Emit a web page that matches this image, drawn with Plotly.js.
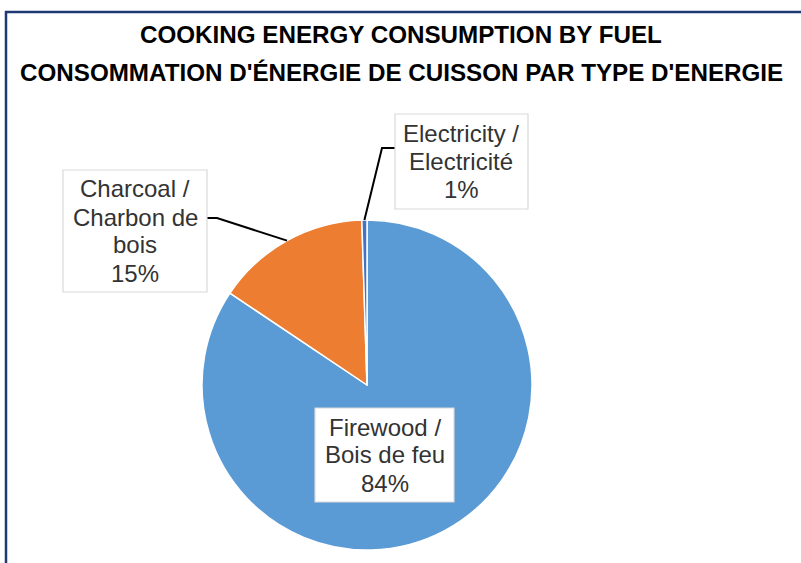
<!DOCTYPE html>
<html>
<head>
<meta charset="utf-8">
<script src="https://cdn.plot.ly/plotly-3.0.1.min.js"></script>
<style>html,body{margin:0;padding:0;background:#fff;}#chart{width:801px;height:563px;}</style>
</head>
<body>
<div id="chart"></div>
<script>
// ---- data ----
const categories = ["Firewood / Bois de feu", "Charcoal / Charbon de bois", "Electricity / Electricité"];
const labelLines = [["Firewood /", "Bois de feu"], ["Charcoal /", "Charbon de", "bois"], ["Electricity /", "Electricité"]];
const values = [84.4, 15.1, 0.5];
const colors = ["#5B9BD5", "#ED7D31", "#4472C4"];
const titleLines = ["COOKING ENERGY CONSUMPTION BY FUEL", "CONSOMMATION D'ÉNERGIE DE CUISSON PAR TYPE D'ENERGIE"];

// ---- layout geometry (pixels) ----
const W = 801, H = 563;
const CX = 367, CY = 385, R = 165;
const LINE = 28;
const px = x => x / W;
const py = y => 1 - y / H;

const total = values.reduce((a, b) => a + b, 0);
const pct = values.map(v => Math.round(100 * v / total) + "%");

// mid angle (clockwise from top) of each slice
let cum = 0;
const mids = values.map(v => { const m = 360 * (cum + v / 2) / total; cum += v; return m; });
const edgePt = i => {
  const t = mids[i] * Math.PI / 180;
  return [CX + R * Math.sin(t), CY - R * Math.cos(t)];
};

// label boxes: [centerX, centerY, width, height]
const boxes = [
  [384.5, 455, 139, 94],
  [135, 231, 144, 122],
  [461.5, 161.5, 133, 95]
];
// leader elbows for outside labels
const elbows = { 1: [217, 218, 207], 2: [382, 148, 395] };

const shapes = [
  { type: "line", xref: "paper", yref: "paper", x0: px(6), x1: px(6), y0: py(11), y1: py(563), line: { color: "#1F3A73", width: 2.5 } },
  { type: "line", xref: "paper", yref: "paper", x0: px(5), x1: px(801), y0: py(12), y1: py(12), line: { color: "#1F3A73", width: 2.5 } }
];
Object.keys(elbows).forEach(k => {
  const i = +k;
  const [ex, ey, bx] = elbows[k];
  const [sx, sy] = edgePt(i);
  shapes.push({ type: "path", xref: "paper", yref: "paper", layer: "above",
    path: `M ${px(sx)} ${py(sy)} L ${px(ex)} ${py(ey)} L ${px(bx)} ${py(ey)}`,
    line: { color: "#000", width: 2 } });
});
boxes.forEach(b => {
  shapes.push({ type: "rect", xref: "paper", yref: "paper", layer: "above",
    x0: px(b[0] - b[2] / 2), x1: px(b[0] + b[2] / 2), y0: py(b[1] + b[3] / 2), y1: py(b[1] - b[3] / 2),
    fillcolor: "#FFFFFF", line: { color: "#D9D9D9", width: 1.2 } });
});

const annotations = [];
categories.forEach((c, i) => {
  const b = boxes[i];
  const lines = labelLines[i].concat([pct[i]]);
  const n = lines.length;
  lines.forEach((t, j) => {
    annotations.push({
      xref: "paper", yref: "paper", x: px(b[0]), y: py(b[1] + (j - (n - 1) / 2) * LINE),
      xanchor: "center", yanchor: "middle", showarrow: false, text: t,
      font: { family: "Liberation Sans, Arial, sans-serif", size: 24, color: "#333333" }
    });
  });
});
const titleY = [35, 73];
titleLines.forEach((t, i) => {
  annotations.push({
    xref: "paper", yref: "paper", x: px(401), y: py(titleY[i]),
    xanchor: "center", yanchor: "middle", showarrow: false, text: "<b>" + t + "</b>",
    font: { family: "Liberation Sans, Arial, sans-serif", size: 24.2, color: "#000000" }
  });
});

const data = [{
  type: "pie",
  labels: categories,
  values: values,
  sort: false,
  direction: "clockwise",
  rotation: 0,
  textinfo: "none",
  hoverinfo: "label+percent",
  marker: { colors: colors, line: { color: "#FFFFFF", width: 1.5 } },
  domain: { x: [px(CX - R), px(CX + R)], y: [py(CY + R), py(CY - R)] },
  showlegend: false
}];

const layout = {
  width: W, height: H,
  margin: { l: 0, r: 0, t: 0, b: 0 },
  paper_bgcolor: "#FFFFFF",
  showlegend: false,
  shapes: shapes,
  annotations: annotations
};

Plotly.newPlot("chart", data, layout, { staticPlot: true, displayModeBar: false });
</script>
</body>
</html>
